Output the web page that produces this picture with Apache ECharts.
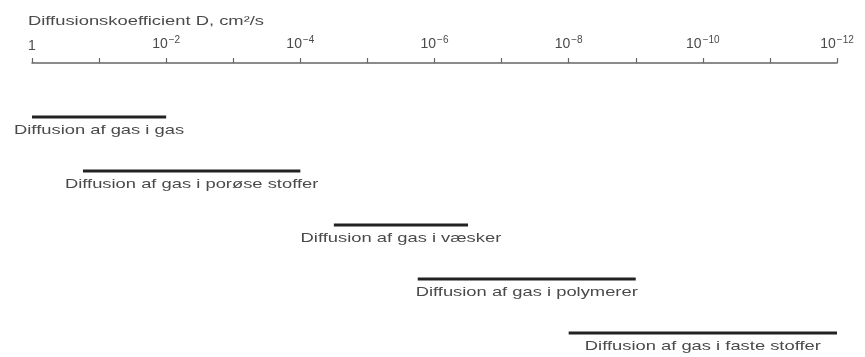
<!DOCTYPE html>
<html>
<head>
<meta charset="utf-8">
<script src="https://cdn.jsdelivr.net/npm/echarts@6/dist/echarts.min.js"></script>
<style>
  html, body { margin: 0; padding: 0; background: #fff; }
  #chart { width: 865px; height: 357px; }
</style>
</head>
<body>
<div id="chart"></div>
<script>
// Axis title
const axisTitle = 'Diffusionskoefficient D, cm²/s';
// Tick exponents (log10 of D), labelled every second power
const tickMin = -12;
const tickMax = 0;
// Categories (ranges of diffusion coefficient)
const categories = [
  'Diffusion af gas i gas',
  'Diffusion af gas i porøse stoffer',
  'Diffusion af gas i væsker',
  'Diffusion af gas i polymerer',
  'Diffusion af gas i faste stoffer'
];
// log10 of upper and lower D limits (cm²/s)
const fromExp = [0, -0.76, -4.5, -5.75, -8];
const toExp = [-2, -4, -6.5, -9, -12];
const rows = [1, 2, 3, 4, 5];

const FONT = '"Liberation Sans", Arial, Helvetica, sans-serif';
const TEXT_COLOR = '#4a4a4a';
const STRETCH = 1.36;

const data = categories.map((c, i) => [fromExp[i], toExp[i], rows[i], c]);

const chart = echarts.init(document.getElementById('chart'), null, { renderer: 'canvas' });
chart.setOption({
  animation: false,
  backgroundColor: '#fff',
  grid: { left: 32, right: 28, top: 63, bottom: 24 },
  graphic: [{
    type: 'text',
    x: 28, y: 21,
    scaleX: STRETCH,
    style: {
      text: axisTitle,
      font: '13.5px ' + FONT,
      fill: TEXT_COLOR,
      textAlign: 'left',
      textVerticalAlign: 'middle'
    }
  }],
  xAxis: {
    type: 'value',
    position: 'top',
    inverse: true,
    min: tickMin,
    max: tickMax,
    interval: 1,
    splitLine: { show: false },
    axisLine: { show: true, lineStyle: { color: '#666', width: 1.5 } },
    axisTick: { show: true, length: 5, lineStyle: { color: '#666', width: 1.2 } },
    axisLabel: {
      show: true,
      margin: 10,
      color: TEXT_COLOR,
      fontFamily: FONT,
      fontSize: 14,
      formatter: function (v) {
        if (Math.round(v) % 2 !== 0) return '';
        if (v === 0) return '{b|1}';
        return '{b|10}{s|' + String(v).replace('-', '\u2212') + '}';
      },
      rich: {
        b: { fontSize: 14, fontFamily: FONT, color: TEXT_COLOR },
        s: { fontSize: 10, fontFamily: FONT, color: TEXT_COLOR, padding: [0, 0, 8, 1] }
      }
    }
  },
  yAxis: {
    type: 'value',
    inverse: true,
    min: 0,
    max: 5,
    show: false
  },
  series: [{
    type: 'custom',
    data: data,
    encode: { x: [0, 1], y: 2 },
    renderItem: function (params, api) {
      const p1 = api.coord([api.value(0), api.value(2)]);
      const p2 = api.coord([api.value(1), api.value(2)]);
      const label = categories[params.dataIndex];
      return {
        type: 'group',
        children: [
          {
            type: 'line',
            shape: { x1: p1[0], y1: p1[1], x2: p2[0], y2: p2[1] },
            style: { stroke: '#222', lineWidth: 3 }
          },
          {
            type: 'text',
            x: (p1[0] + p2[0]) / 2,
            y: p1[1] + 13,
            scaleX: STRETCH,
            style: {
              text: label,
              font: '13.5px ' + FONT,
              fill: TEXT_COLOR,
              textAlign: 'center',
              textVerticalAlign: 'middle'
            }
          }
        ]
      };
    }
  }]
});
</script>
</body>
</html>
